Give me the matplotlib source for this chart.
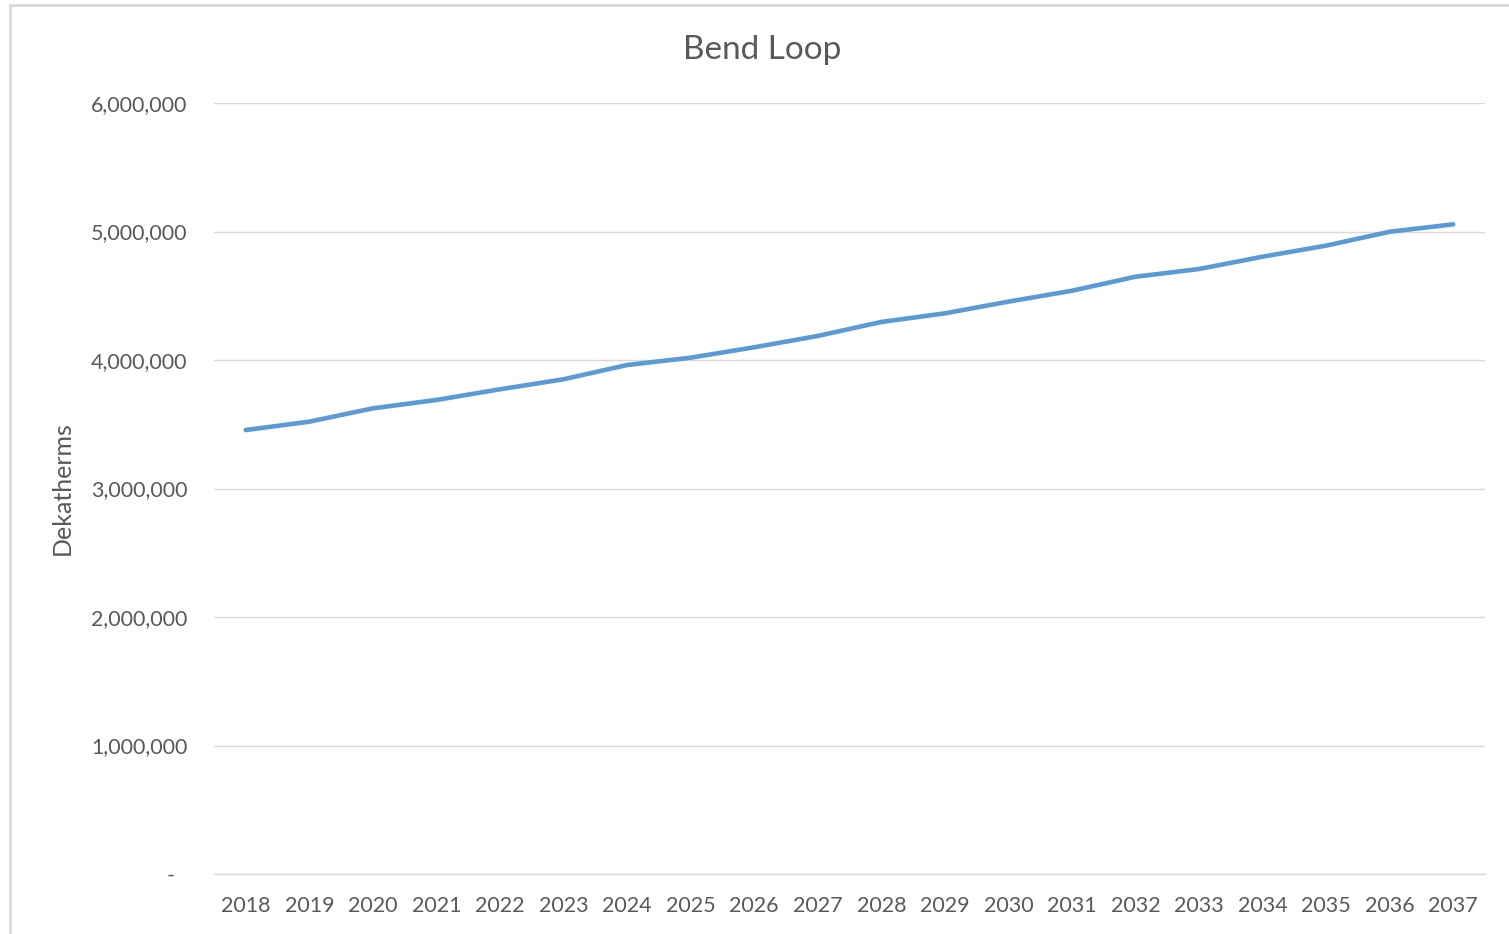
import matplotlib
matplotlib.use("Agg")
import matplotlib.pyplot as plt
from matplotlib.patches import Rectangle
from matplotlib.ticker import FuncFormatter

years = [str(y) for y in range(2018, 2038)]
dekatherms = [3455000, 3520000, 3624000, 3689000, 3772000, 3850000, 3961000,
              4018000, 4099000, 4187000, 4296000, 4363000, 4454000, 4539000,
              4648000, 4708000, 4804000, 4890000, 4998000, 5056000]
y_ticks = [0, 1000000, 2000000, 3000000, 4000000, 5000000, 6000000]

plt.rcParams['font.family'] = ['Lato', 'DejaVu Sans']
text_color = '#595959'

W, H = 1509, 934
fig = plt.figure(figsize=(W / 100, H / 100), dpi=100)
fig.patch.set_facecolor('white')

# chart-area frame
fig.patches.append(Rectangle((10 / W, -0.1), 2.0, 1 - 5 / H + 0.1,
                             transform=fig.transFigure, fill=False,
                             edgecolor='#d9d9d9', linewidth=2))

ax = fig.add_axes([214 / W, 1 - 874 / H, (1485 - 214) / W, (874 - 103) / H])
x = list(range(len(years)))
ax.plot(x, dekatherms, color='#5B9BD5', linewidth=3.3,
        solid_capstyle='round', solid_joinstyle='round')

ax.set_xlim(-0.5, len(years) - 0.5)
ax.set_ylim(0, 6000000)
ax.set_yticks(y_ticks)
# accounting-style format: zero shown as a dash, padded on the right
ax.yaxis.set_major_formatter(
    FuncFormatter(lambda v, p: '-\u2007' if v == 0 else f'{int(v):,}'))
ax.set_xticks(x)
ax.set_xticklabels(years)

ax.grid(axis='y', color='#d9d9d9', linewidth=1.0)
ax.set_axisbelow(True)
for s in ['top', 'right', 'left']:
    ax.spines[s].set_visible(False)
ax.spines['bottom'].set_color('#d9d9d9')
ax.spines['bottom'].set_linewidth(1.0)

ax.tick_params(axis='both', length=0, labelsize=15.5, labelcolor=text_color)
ax.tick_params(axis='y', pad=19)
ax.tick_params(axis='x', pad=16)

fig.text(62 / W, 1 - 488 / H, 'Dekatherms', rotation=90, ha='center',
         va='center', fontsize=18, color=text_color)
fig.text(762 / W, 1 - 50 / H, 'Bend Loop', ha='center', va='center',
         fontsize=24, color=text_color)

fig.savefig('out.png', dpi=100, facecolor='white')
